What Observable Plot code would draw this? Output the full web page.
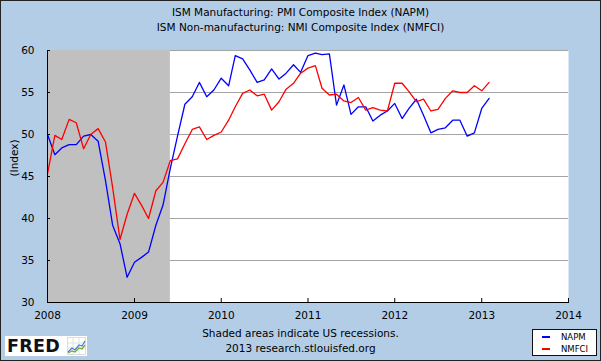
<!DOCTYPE html>
<html><head><meta charset="utf-8">
<script src="https://cdn.jsdelivr.net/npm/d3@7"></script>
<script src="https://cdn.jsdelivr.net/npm/@observablehq/plot@0.6"></script>
<style>
html,body{margin:0;padding:0;background:#fff;}
#wrap{position:relative;width:601px;height:361px;background:#b4cde6;overflow:hidden;font-family:"DejaVu Sans",Verdana,sans-serif;color:#000;}
#wrap svg.plot{position:absolute;left:0;top:0;}
.border{position:absolute;left:0;top:0;width:601px;height:361px;box-sizing:border-box;border:1px solid #222;pointer-events:none;}
.txt{position:absolute;left:0;width:601px;text-align:center;font-size:10.5px;line-height:15px;white-space:nowrap;}
#legend{position:absolute;left:532px;top:329px;width:65px;height:27px;box-sizing:border-box;background:#fff;border:1px solid #111;font-size:8.5px;}
#legend .row{position:absolute;left:0;height:12px;line-height:12px;}
#legend .sw{position:absolute;left:9px;top:5px;width:8px;height:2px;}
#legend .lb{position:absolute;left:28px;top:0;}
#fred{position:absolute;left:5px;top:336px;width:82px;height:20px;background:#fff;}
#fred span{position:absolute;left:2px;top:-1px;font-family:"DejaVu Sans",sans-serif;font-weight:bold;font-size:17.5px;line-height:22px;letter-spacing:0.3px;color:#111;}
#fred svg{position:absolute;left:62px;top:1px;}
</style></head>
<body>
<div id="wrap">
  <div class="txt" style="top:5px">ISM Manufacturing: PMI Composite Index (NAPM)</div>
  <div class="txt" style="top:20px">ISM Non-manufacturing: NMI Composite Index (NMFCI)</div>
  <div class="txt" style="top:326px">Shaded areas indicate US recessions.</div>
  <div class="txt" style="top:341px">2013 research.stlouisfed.org</div>
  <div id="fred"><span>FRED</span>
    <svg width="19" height="18" viewBox="0 0 19 18">
      <rect x="0.5" y="0.5" width="18" height="17" fill="#fff" stroke="#ddd"/>
      <path d="M1 6H18M1 11H18M6 1V17M12 1V17" stroke="#e3e3e3" stroke-width="1"/>
      <path d="M1 15L5 11L8 13L12 8L15 9L18 4" fill="none" stroke="#4a7fd0" stroke-width="1.3"/>
      <path d="M1 16L5 14L8 15L12 11L15 12L18 8" fill="none" stroke="#6cae3c" stroke-width="1.3"/>
    </svg>
  </div>
  <div id="legend"></div>
  <div class="border"></div>
</div>
<script>
const seriesNames = ["NAPM", "NMFCI"];
const seriesColors = ["#0000ff", "#ff0000"];
const firstMonth = "2008-01-01";
// ISM Manufacturing PMI, monthly Jan 2008 - Feb 2013
const napm = [
  50.0, 47.6, 48.4, 48.8, 48.8, 49.8, 50.0, 49.2, 44.5, 39.2, 37.0, 33.0,
  34.8, 35.4, 36.0, 39.2, 41.6, 46.0, 49.8, 53.6, 54.5, 56.2, 54.5, 55.3,
  56.7, 55.8, 59.4, 59.0, 57.7, 56.2, 56.5, 57.8, 56.6, 57.3, 58.3, 57.4,
  59.4, 59.7, 59.5, 59.6, 53.5, 55.9, 52.4, 53.3, 53.3, 51.6, 52.3, 52.8,
  53.7, 51.9, 53.1, 54.2, 52.3, 50.2, 50.6, 50.8, 51.7, 51.7, 49.8, 50.2,
  53.1, 54.3
];
// ISM Non-manufacturing NMI, monthly Jan 2008 - Feb 2013
const nmfci = [
  45.3, 49.9, 49.4, 51.8, 51.4, 48.3, 50.0, 50.7, 49.1, 43.7, 37.5, 40.5,
  43.0, 41.5, 40.0, 43.3, 44.3, 46.9, 47.1, 48.9, 50.6, 50.9, 49.4, 49.9,
  50.3, 51.7, 53.3, 54.9, 55.3, 54.6, 54.8, 52.9, 53.9, 55.4, 56.1, 57.3,
  57.9, 58.2, 55.5, 54.7, 54.8, 54.0, 53.8, 54.4, 52.9, 53.2, 52.9, 52.8,
  56.1, 56.1, 55.1, 53.9, 54.2, 52.8, 53.0, 54.3, 55.2, 55.0, 55.0, 55.8,
  55.2, 56.2
];
const yTicks = [30, 35, 40, 45, 50, 55, 60];
const xYears = [2008, 2009, 2010, 2011, 2012, 2013, 2014];
const recessions = [{start: "2007-12-01", end: "2009-06-01"}];
const yLabel = "(Index)";

const start = new Date(firstMonth);
const months = d3.utcMonth.range(start, d3.utcMonth.offset(start, napm.length));
const seriesValues = [napm, nmfci];
const rows = seriesNames.flatMap((name, s) =>
  seriesValues[s].map((v, i) => ({series: name, date: months[i], value: v})));
const xTickDates = xYears.map(y => new Date(Date.UTC(y, 0, 1)));
const recRows = recessions.map(r => ({start: new Date(r.start), end: new Date(r.end)}));

const chart = Plot.plot({
  width: 601, height: 361,
  marginLeft: 47, marginRight: 33, marginTop: 50, marginBottom: 59,
  style: {background: "transparent", fontFamily: "'DejaVu Sans', Verdana, sans-serif", fontSize: "10.5px", color: "#000", overflow: "visible"},
  x: {type: "utc", domain: [xTickDates[0], xTickDates[xTickDates.length - 1]]},
  y: {domain: [yTicks[0], yTicks[yTicks.length - 1]]},
  color: {domain: seriesNames, range: seriesColors},
  marks: [
    Plot.frame({fill: "#fff", stroke: "none"}),
    Plot.ruleY(yTicks.slice(1), {stroke: "#a4a4a4", strokeWidth: 1.2}),
    Plot.rect(recRows, {x1: "start", x2: "end", fill: "#c0c0c0", clip: true}),
    Plot.lineY(rows, {x: "date", y: "value", z: "series", stroke: "series", strokeWidth: 1.3}),
    Plot.frame({anchor: "left", stroke: "#000"}),
    Plot.frame({anchor: "bottom", stroke: "#000"}),
    Plot.axisX(xTickDates, {tickSize: -4, tickPadding: 13, tickFormat: d3.utcFormat("%Y"), label: null, stroke: "#000"}),
    Plot.axisY(yTicks, {tickSize: -3, tickPadding: 16, label: null, stroke: "#000"}),
    Plot.text([yLabel], {frameAnchor: "left", dx: -33, rotate: -90, fontSize: 10.5})
  ]
});
chart.classList.add("plot");
const wrap = document.getElementById("wrap");
wrap.insertBefore(chart, wrap.firstChild);

const legend = document.getElementById("legend");
seriesNames.forEach((name, i) => {
  const row = document.createElement("div");
  row.className = "row";
  row.style.top = (1 + i * 12) + "px";
  row.style.width = "63px";
  row.innerHTML = `<div class="sw" style="background:${seriesColors[i]}"></div><div class="lb">${name}</div>`;
  legend.appendChild(row);
});
</script>
</body></html>
